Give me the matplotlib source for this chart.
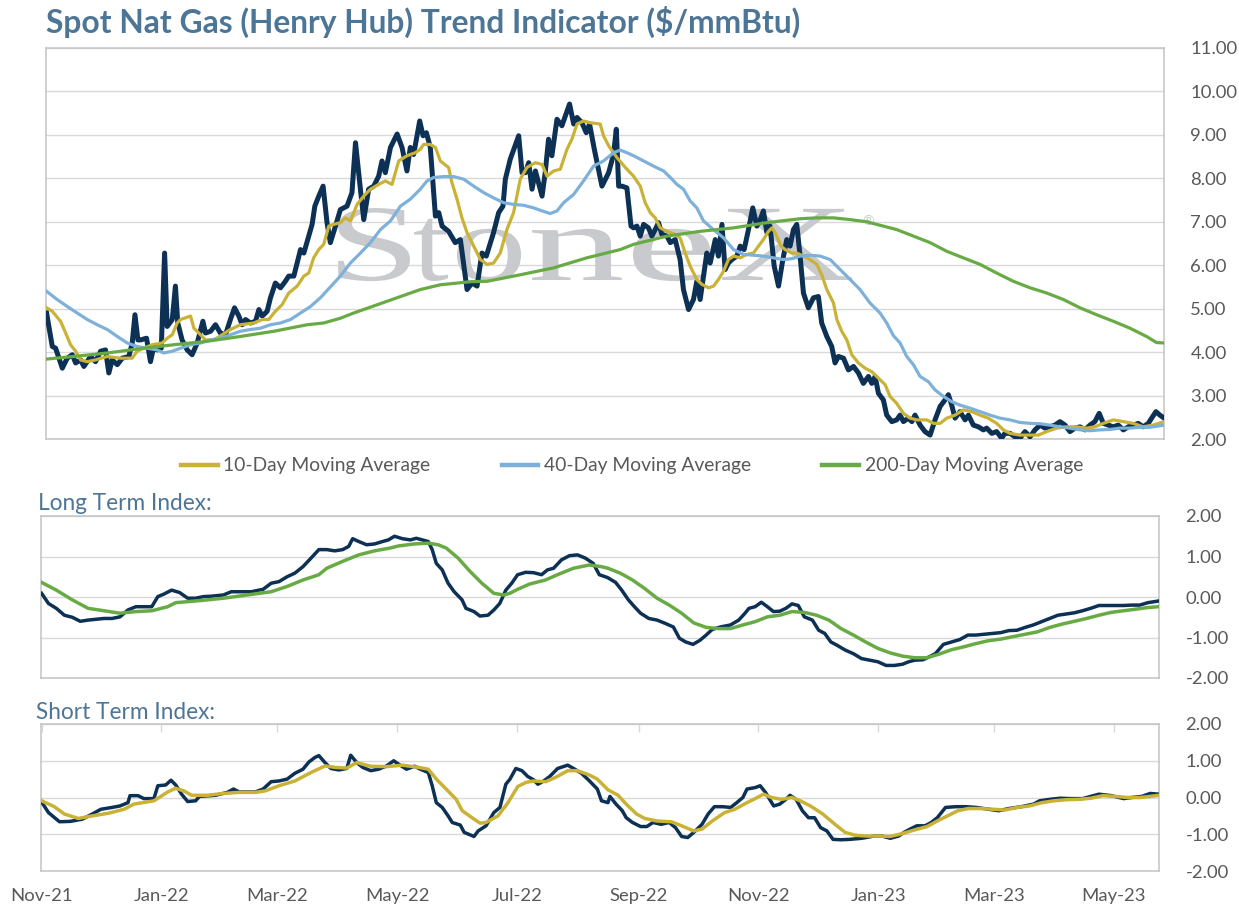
import numpy as np
import pandas as pd
import matplotlib
matplotlib.use("Agg")
import matplotlib.pyplot as plt
import matplotlib.dates as mdates
import matplotlib.ticker as mtick
from matplotlib.textpath import TextPath
from matplotlib.font_manager import FontProperties
from matplotlib.patches import PathPatch
from matplotlib.transforms import Affine2D

plt.rcParams["font.family"] = ["Lato", "DejaVu Sans"]
plt.rcParams["axes.unicode_minus"] = False

# ========= data: (days since START, value) =========
START = "2021-11-01"
X_END = 569

SPOT = [
    (0, 4.90), (2.9, 4.13), (4.6, 4.09), (8.0, 3.63), (10.5, 3.86), (13.1, 3.94), (14.8, 3.75),
    (17.3, 3.82), (19.0, 3.67), (22.4, 3.90), (24.9, 3.78), (27.5, 4.02), (30.0, 4.05), (31.7, 3.52),
    (33.4, 3.82), (36.0, 3.71), (38.5, 3.86), (41.9, 3.90), (43.6, 4.21), (45.0, 4.86), (46.5, 4.28),
    (47.8, 4.28), (50.9, 4.32), (52.9, 3.78), (54.6, 4.13), (56.3, 4.05), (58.4, 4.09), (60.1, 6.28),
    (61.4, 4.59), (64.0, 4.75), (65.6, 5.52), (66.8, 4.67), (69.0, 4.28), (71.6, 4.05), (74.1, 3.94),
    (76.7, 4.21), (79.6, 4.71), (80.9, 4.44), (83.5, 4.48), (86.0, 4.63), (88.5, 4.44), (91.1, 4.40),
    (93.6, 4.75), (95.7, 5.02), (97.9, 4.83), (99.6, 4.63), (101.3, 4.75), (103.8, 4.67), (106.4, 4.71),
    (108.1, 4.98), (109.8, 4.83), (112.3, 4.94), (114.0, 5.25), (116.5, 5.59), (119.1, 5.48), (121.6, 5.63),
    (123.3, 5.75), (125.9, 5.75), (127.6, 6.05), (129.3, 6.36), (131.0, 6.28), (133.5, 6.67), (135.2, 6.94),
    (136.6, 7.36), (138.6, 7.59), (140.8, 7.82), (142.8, 6.98), (144.5, 6.52), (147.1, 6.90), (149.6, 7.28),
    (153.0, 7.36), (155.5, 7.67), (157.3, 8.82), (159.8, 7.75), (161.5, 7.05), (164.0, 7.75), (166.6, 7.82),
    (169.1, 8.05), (170.8, 8.40), (172.5, 8.13), (175.1, 8.71), (178.5, 9.02), (181.0, 8.71), (183.5, 8.17),
    (185.2, 8.71), (186.9, 8.55), (188.6, 8.98), (190.0, 9.32), (191.7, 8.98), (193.4, 9.05), (195.4, 8.71),
    (198.0, 7.13), (199.7, 7.21), (201.4, 6.90), (204.7, 6.78), (208.1, 6.52), (210.7, 6.59), (214.1, 5.44),
    (216.6, 5.59), (219.2, 5.52), (221.7, 6.28), (223.9, 6.21), (226.0, 6.52), (227.6, 6.75), (230.2, 7.21),
    (232.4, 7.36), (233.6, 7.98), (236.1, 8.44), (240.4, 8.98), (242.1, 8.13), (243.8, 8.13), (245.5, 8.36),
    (247.2, 7.75), (248.9, 8.17), (252.3, 7.59), (253.9, 8.13), (255.6, 8.90), (257.3, 8.52), (259.9, 9.36),
    (262.4, 9.21), (266.3, 9.71), (268.4, 9.25), (270.1, 9.40), (272.6, 9.28), (274.8, 9.05), (276.5, 9.25),
    (278.9, 8.67), (282.8, 7.82), (286.2, 8.13), (288.7, 8.55), (290.1, 9.13), (291.3, 7.82), (293.0, 7.82),
    (295.5, 7.78), (297.6, 6.90), (298.9, 6.86), (300.6, 6.90), (302.3, 6.67), (304.0, 6.94), (306.5, 6.86),
    (308.2, 6.67), (309.9, 6.82), (311.6, 6.98), (313.3, 6.71), (315.9, 6.67), (317.6, 6.52), (320.1, 6.59),
    (322.6, 6.13), (324.3, 5.44), (326.9, 4.98), (329.4, 5.21), (331.1, 5.63), (332.8, 5.21), (334.5, 5.75),
    (336.2, 6.28), (337.9, 6.05), (340.5, 6.59), (342.1, 6.21), (343.9, 6.94), (345.5, 5.90), (347.2, 6.05),
    (349.0, 6.13), (351.5, 6.21), (353.2, 6.44), (355.2, 6.36), (357.4, 6.82), (359.6, 7.32), (361.7, 6.90),
    (363.4, 7.05), (365.0, 7.25), (366.8, 6.75), (368.4, 6.90), (370.5, 5.98), (372.7, 5.52), (374.9, 6.13),
    (376.9, 6.59), (378.6, 6.44), (380.3, 6.82), (382.0, 6.94), (383.7, 6.21), (385.4, 5.36), (387.9, 5.02),
    (390.5, 5.25), (393.0, 5.28), (394.7, 4.67), (397.3, 4.36), (399.8, 4.13), (401.5, 3.75), (403.2, 3.90),
    (405.8, 3.86), (408.3, 3.59), (410.9, 3.67), (413.4, 3.52), (415.9, 3.28), (418.5, 3.44), (420.2, 3.28),
    (421.9, 3.44), (423.6, 3.05), (426.1, 2.90), (427.8, 2.55), (430.4, 2.40), (432.9, 2.44), (434.6, 2.55),
    (436.3, 2.40), (438.8, 2.48), (440.6, 2.40), (442.2, 2.55), (444.8, 2.32), (447.3, 2.17), (449.9, 2.09),
    (452.4, 2.44), (455.0, 2.75), (457.5, 2.90), (459.2, 3.02), (460.9, 2.78), (462.6, 2.48), (465.1, 2.63),
    (467.7, 2.44), (469.4, 2.55), (471.9, 2.32), (474.5, 2.28), (477.0, 2.21), (478.7, 2.25), (481.3, 2.13),
    (483.8, 2.17), (486.3, 2.02), (488.0, 2.13), (490.6, 2.13), (493.1, 2.05), (495.7, 2.02), (498.2, 2.17),
    (500.8, 2.05), (503.3, 2.21), (505.9, 2.32), (508.4, 2.25), (510.9, 2.28), (513.5, 2.32), (516.0, 2.40),
    (518.6, 2.32), (521.1, 2.17), (523.7, 2.25), (526.2, 2.28), (528.8, 2.21), (531.3, 2.32), (533.8, 2.40),
    (536.0, 2.59), (538.1, 2.36), (540.6, 2.32), (543.2, 2.28), (545.7, 2.32), (548.3, 2.21), (550.8, 2.28),
    (553.3, 2.32), (555.9, 2.36), (558.4, 2.28), (561.0, 2.36), (562.7, 2.48), (564.9, 2.63), (566.9, 2.55),
    (569.1, 2.48),
]

MA10 = [
    (0, 5.02), (2.9, 4.94), (7.1, 4.71), (9.7, 4.44), (12.2, 4.17), (14.8, 4.02), (17.3, 3.82), (20.7, 3.78),
    (24.9, 3.82), (30.9, 3.90), (37.7, 3.86), (43.6, 3.86), (46.1, 4.02), (49.5, 4.09), (53.8, 4.17),
    (58.9, 4.21), (61.4, 4.32), (64.0, 4.40), (66.5, 4.67), (68.2, 4.75), (73.3, 4.83), (75.0, 4.55),
    (77.5, 4.44), (80.9, 4.28), (85.2, 4.28), (89.4, 4.40), (93.6, 4.52), (98.7, 4.63), (105.5, 4.67),
    (109.8, 4.75), (113.1, 4.75), (116.5, 4.94), (119.9, 5.09), (123.3, 5.36), (127.6, 5.52), (131.0, 5.75),
    (133.5, 5.82), (136.0, 6.17), (138.6, 6.36), (141.1, 6.48), (143.7, 6.90), (146.2, 6.94), (149.6, 6.98),
    (152.2, 7.09), (154.7, 7.02), (158.1, 7.40), (161.5, 7.59), (164.9, 7.75), (169.1, 7.86), (172.5, 7.94),
    (175.9, 7.86), (179.3, 8.40), (183.5, 8.52), (187.8, 8.59), (190.3, 8.67), (192.0, 8.78), (195.4, 8.78),
    (198.0, 8.71), (200.5, 8.40), (204.7, 8.25), (206.4, 7.90), (209.0, 7.52), (211.5, 7.09), (214.1, 6.75),
    (217.5, 6.44), (220.9, 6.13), (224.3, 6.02), (227.6, 6.05), (231.0, 6.28), (234.4, 6.82), (237.8, 7.21),
    (241.2, 7.98), (244.6, 8.25), (248.9, 8.36), (252.3, 8.32), (254.8, 8.05), (258.2, 8.17), (261.6, 8.21),
    (265.0, 8.67), (267.5, 8.90), (270.1, 9.25), (273.4, 9.32), (276.8, 9.28), (281.9, 9.25), (283.6, 8.98),
    (286.2, 8.75), (290.4, 8.48), (294.7, 8.25), (298.9, 8.05), (302.3, 7.82), (304.8, 7.44), (307.4, 7.21),
    (309.9, 7.09), (312.5, 6.86), (315.9, 6.78), (320.1, 6.71), (322.6, 6.63), (325.2, 6.28), (327.7, 5.98),
    (331.1, 5.67), (333.7, 5.56), (337.1, 5.48), (339.6, 5.52), (342.1, 5.67), (344.7, 5.86), (347.2, 6.13),
    (349.8, 6.21), (353.2, 6.17), (356.6, 6.25), (359.9, 6.28), (362.5, 6.44), (365.0, 6.59), (367.6, 6.78),
    (369.3, 6.86), (371.0, 6.75), (374.0, 6.44), (376.1, 6.36), (379.5, 6.28), (382.0, 6.28), (385.4, 6.21),
    (388.8, 6.13), (392.2, 6.02), (394.7, 5.78), (397.3, 5.44), (400.7, 5.13), (402.4, 4.75), (404.9, 4.48),
    (407.5, 4.28), (410.0, 3.94), (413.4, 3.75), (416.8, 3.63), (420.2, 3.55), (422.7, 3.44), (427.0, 3.25),
    (429.5, 2.98), (432.9, 2.82), (436.3, 2.59), (439.7, 2.48), (443.1, 2.44), (448.2, 2.44), (451.6, 2.36),
    (455.0, 2.36), (458.4, 2.48), (462.6, 2.55), (466.8, 2.67), (471.1, 2.63), (475.3, 2.55), (479.5, 2.48),
    (483.8, 2.36), (487.2, 2.21), (490.6, 2.13), (495.7, 2.09), (500.8, 2.09), (505.0, 2.09), (509.3, 2.17),
    (514.3, 2.25), (519.4, 2.28), (524.5, 2.28), (529.6, 2.25), (533.8, 2.28), (538.1, 2.36), (543.2, 2.44),
    (548.3, 2.40), (553.3, 2.36), (558.4, 2.28), (563.5, 2.32), (569.1, 2.40),
]

MA40 = [
    (0, 5.40), (5.4, 5.21), (10.5, 5.05), (15.6, 4.90), (20.7, 4.75), (25.8, 4.63), (30.9, 4.52), (36.0, 4.36),
    (41.1, 4.21), (46.1, 4.13), (51.2, 4.09), (56.3, 4.05), (59.7, 3.98), (64.0, 4.02), (68.2, 4.09),
    (73.3, 4.17), (78.4, 4.21), (83.5, 4.28), (88.5, 4.32), (93.6, 4.40), (98.7, 4.48), (103.8, 4.52),
    (108.9, 4.55), (114.0, 4.63), (119.1, 4.67), (124.2, 4.75), (129.3, 4.90), (134.4, 5.05), (139.4, 5.25),
    (144.5, 5.50), (149.6, 5.75), (154.7, 6.05), (159.8, 6.28), (164.9, 6.52), (170.0, 6.82), (175.1, 7.02),
    (180.2, 7.36), (185.2, 7.52), (190.3, 7.75), (193.7, 7.94), (197.1, 8.02), (202.2, 8.04), (207.3, 8.04),
    (212.4, 7.98), (217.5, 7.82), (222.6, 7.67), (227.6, 7.55), (232.7, 7.44), (237.8, 7.40), (242.9, 7.38),
    (248.0, 7.32), (252.3, 7.25), (256.5, 7.19), (259.9, 7.25), (263.3, 7.44), (268.4, 7.63), (273.4, 7.94),
    (278.5, 8.28), (283.6, 8.40), (288.7, 8.59), (292.1, 8.65), (295.5, 8.59), (298.9, 8.52), (304.0, 8.40),
    (309.1, 8.28), (314.2, 8.17), (317.6, 8.02), (321.0, 7.86), (324.3, 7.75), (327.7, 7.48), (331.1, 7.32),
    (334.5, 7.02), (339.6, 6.82), (344.7, 6.63), (349.8, 6.36), (354.9, 6.25), (359.9, 6.23), (365.0, 6.21),
    (370.1, 6.17), (375.2, 6.13), (379.5, 6.15), (383.7, 6.21), (388.8, 6.23), (393.9, 6.21), (399.0, 6.13),
    (404.1, 5.90), (409.2, 5.67), (414.2, 5.44), (419.3, 5.13), (424.4, 4.90), (427.8, 4.67), (431.2, 4.38),
    (434.6, 4.21), (438.0, 3.90), (441.4, 3.71), (444.8, 3.44), (449.0, 3.32), (452.4, 3.13), (456.7, 2.98),
    (460.9, 2.86), (465.1, 2.78), (470.2, 2.71), (475.3, 2.63), (480.4, 2.55), (485.5, 2.48), (490.6, 2.44),
    (495.7, 2.38), (500.8, 2.36), (505.9, 2.35), (510.9, 2.32), (516.0, 2.28), (521.1, 2.25), (526.2, 2.21),
    (531.3, 2.19), (536.4, 2.21), (541.5, 2.22), (546.6, 2.25), (551.7, 2.25), (556.7, 2.27), (561.8, 2.27),
    (569.1, 2.32),
]

MA200 = [
    (0, 3.84), (13.9, 3.90), (30.9, 3.98), (47.8, 4.08), (64.8, 4.17), (81.8, 4.25), (98.7, 4.36),
    (115.7, 4.48), (132.7, 4.63), (141.1, 4.67), (149.6, 4.78), (156.4, 4.90), (173.4, 5.17), (190.3, 5.44),
    (200.5, 5.55), (215.8, 5.62), (224.3, 5.63), (241.2, 5.78), (258.2, 5.94), (275.1, 6.17), (292.1, 6.36),
    (298.9, 6.48), (315.9, 6.67), (332.8, 6.78), (349.8, 6.86), (366.8, 6.98), (383.7, 7.07), (392.2, 7.09),
    (400.7, 7.09), (409.2, 7.05), (417.6, 7.00), (426.1, 6.90), (432.9, 6.82), (441.4, 6.67), (449.9, 6.52),
    (458.4, 6.32), (466.8, 6.17), (475.3, 6.02), (483.8, 5.82), (492.3, 5.63), (500.8, 5.48), (509.3, 5.36),
    (517.8, 5.21), (526.2, 5.02), (534.7, 4.86), (543.2, 4.71), (551.7, 4.55), (560.1, 4.36), (565.2, 4.22),
    (569.1, 4.21),
]

LT_SPOT = [
    (0, 0.09), (3.5, -0.16), (7.5, -0.28), (11.6, -0.45), (15.6, -0.50), (19.7, -0.60), (23.7, -0.57),
    (27.8, -0.55), (31.8, -0.53), (35.9, -0.53), (39.9, -0.49), (44.0, -0.32), (48.0, -0.24), (52.1, -0.24),
    (56.1, -0.24), (59.2, 0.01), (62.2, 0.07), (66.2, 0.17), (70.3, 0.11), (74.4, -0.03), (78.4, -0.03),
    (82.5, 0.01), (86.5, 0.02), (92.6, 0.05), (96.6, 0.13), (100.7, 0.13), (106.8, 0.13), (112.8, 0.19),
    (116.9, 0.34), (120.9, 0.38), (125.0, 0.50), (129.0, 0.59), (133.1, 0.75), (137.2, 0.96), (141.2, 1.17),
    (145.2, 1.17), (149.3, 1.14), (153.3, 1.17), (156.4, 1.25), (158.4, 1.44), (161.5, 1.37), (165.5, 1.29),
    (169.6, 1.31), (173.6, 1.37), (176.6, 1.41), (179.7, 1.50), (183.7, 1.44), (187.8, 1.41), (190.8, 1.45),
    (193.9, 1.41), (196.9, 1.37), (198.9, 1.17), (201.0, 0.83), (204.0, 0.67), (207.0, 0.34), (210.1, 0.13),
    (214.1, -0.07), (216.1, -0.28), (220.2, -0.36), (223.2, -0.47), (227.3, -0.45), (230.3, -0.32),
    (233.3, -0.16), (236.4, 0.17), (239.4, 0.34), (242.4, 0.55), (246.5, 0.61), (250.6, 0.60), (254.6, 0.55),
    (257.6, 0.67), (260.7, 0.71), (264.8, 0.92), (268.8, 1.02), (272.9, 1.04), (276.9, 0.96), (280.9, 0.83),
    (284.0, 0.55), (288.2, 0.48), (292.3, 0.36), (295.4, 0.17), (298.8, -0.07), (301.9, -0.24), (305.0, -0.40),
    (309.2, -0.53), (313.4, -0.57), (317.5, -0.65), (321.7, -0.74), (324.8, -1.02), (328.0, -1.11),
    (331.7, -1.17), (335.2, -1.07), (338.4, -0.94), (341.5, -0.80), (345.7, -0.74), (350.8, -0.69),
    (355.0, -0.57), (358.2, -0.40), (360.2, -0.28), (363.3, -0.24), (366.5, -0.13), (369.6, -0.24),
    (372.7, -0.36), (375.9, -0.35), (379.0, -0.28), (382.1, -0.17), (385.3, -0.21), (388.4, -0.49),
    (392.5, -0.57), (395.7, -0.82), (398.8, -0.90), (401.9, -1.11), (405.0, -1.19), (409.2, -1.31),
    (413.4, -1.40), (417.5, -1.52), (421.7, -1.56), (425.9, -1.60), (430.0, -1.69), (434.2, -1.69),
    (438.4, -1.66), (441.5, -1.60), (444.6, -1.56), (448.8, -1.55), (451.9, -1.48), (455.1, -1.40),
    (459.2, -1.17), (463.4, -1.11), (467.6, -1.05), (471.7, -0.94), (475.8, -0.94), (480.0, -0.92),
    (484.2, -0.90), (488.4, -0.88), (492.5, -0.83), (496.7, -0.82), (500.9, -0.75), (505.0, -0.69),
    (509.2, -0.61), (513.4, -0.53), (517.5, -0.45), (521.7, -0.42), (525.9, -0.39), (530.0, -0.34),
    (534.2, -0.28), (538.4, -0.21), (542.6, -0.21), (546.7, -0.21), (550.9, -0.21), (555.0, -0.20),
    (559.2, -0.20), (563.3, -0.14), (568.6, -0.10),
]

LT_MA = [
    (0, 0.36), (7.5, 0.17), (15.6, -0.07), (23.7, -0.28), (31.8, -0.34), (39.9, -0.40), (48.0, -0.36),
    (56.1, -0.34), (64.2, -0.24), (68.3, -0.14), (80.4, -0.09), (92.6, -0.03), (104.7, 0.05), (116.9, 0.13),
    (125.0, 0.26), (133.1, 0.42), (141.2, 0.55), (145.2, 0.71), (153.3, 0.88), (161.5, 1.04), (169.6, 1.14),
    (177.6, 1.21), (181.7, 1.26), (189.8, 1.31), (196.9, 1.33), (201.9, 1.29), (206.0, 1.21), (212.1, 0.96),
    (218.2, 0.63), (224.2, 0.34), (230.3, 0.09), (235.4, 0.05), (238.4, 0.09), (242.4, 0.19), (248.5, 0.32),
    (256.6, 0.42), (262.7, 0.55), (270.8, 0.71), (278.9, 0.79), (285.0, 0.75), (288.4, 0.71), (294.6, 0.59),
    (300.9, 0.42), (307.1, 0.21), (313.4, -0.03), (319.6, -0.20), (325.9, -0.40), (332.1, -0.64),
    (338.4, -0.75), (344.6, -0.78), (350.8, -0.78), (357.1, -0.69), (363.3, -0.61), (369.6, -0.49),
    (375.9, -0.45), (382.1, -0.36), (388.4, -0.38), (394.6, -0.45), (400.9, -0.57), (407.1, -0.78),
    (413.4, -0.94), (419.6, -1.11), (425.9, -1.27), (432.1, -1.38), (438.4, -1.46), (444.6, -1.50),
    (450.9, -1.50), (457.1, -1.41), (463.4, -1.30), (469.6, -1.23), (475.8, -1.15), (482.1, -1.08),
    (488.4, -1.04), (494.6, -0.98), (500.9, -0.92), (507.1, -0.86), (513.4, -0.75), (519.6, -0.67),
    (525.9, -0.60), (532.1, -0.53), (538.4, -0.45), (544.6, -0.38), (550.9, -0.34), (557.1, -0.30),
    (563.3, -0.26), (568.6, -0.24),
]

ST_SPOT = [
    (0, -0.12), (3.5, -0.41), (9.1, -0.66), (14.6, -0.65), (20.7, -0.59), (25.8, -0.45), (30.2, -0.32),
    (35.9, -0.27), (39.9, -0.23), (44.0, -0.14), (45.0, 0.05), (49.1, 0.05), (52.1, -0.03), (57.2, -0.03),
    (59.2, 0.32), (63.2, 0.34), (65.9, 0.47), (68.3, 0.34), (71.3, 0.09), (74.4, -0.11), (78.4, -0.09),
    (80.4, 0.03), (88.6, 0.06), (94.6, 0.14), (97.7, 0.23), (100.7, 0.15), (108.8, 0.15), (112.8, 0.23),
    (116.9, 0.43), (120.9, 0.45), (125.0, 0.50), (129.0, 0.66), (133.1, 0.77), (136.2, 0.97), (139.2, 1.09),
    (141.2, 1.14), (144.3, 0.95), (147.3, 0.79), (151.4, 0.75), (155.4, 0.79), (157.4, 1.15), (160.5, 0.95),
    (163.5, 0.82), (167.6, 0.73), (171.6, 0.77), (175.7, 0.86), (179.3, 1.00), (181.7, 0.91), (185.8, 0.77),
    (189.9, 0.85), (192.9, 0.77), (196.9, 0.68), (198.9, 0.32), (201.0, -0.14), (204.0, -0.27),
    (207.0, -0.50), (209.1, -0.68), (213.2, -0.75), (215.2, -0.95), (220.2, -1.06), (222.3, -0.91),
    (226.3, -0.77), (230.3, -0.41), (233.4, -0.27), (236.4, 0.36), (238.5, 0.50), (241.5, 0.79),
    (244.6, 0.73), (247.6, 0.57), (250.6, 0.48), (252.7, 0.36), (255.7, 0.45), (258.7, 0.57), (262.8, 0.79),
    (267.9, 0.88), (270.9, 0.79), (274.9, 0.66), (279.0, 0.45), (283.0, 0.23), (285.1, -0.09),
    (288.4, -0.14), (289.4, 0.03), (292.5, -0.18), (295.7, -0.36), (297.7, -0.55), (300.9, -0.68),
    (305.0, -0.79), (308.2, -0.79), (311.3, -0.68), (315.5, -0.73), (319.6, -0.68), (322.8, -0.82),
    (325.9, -1.06), (329.0, -1.09), (332.1, -0.95), (336.3, -0.73), (339.4, -0.45), (342.6, -0.25),
    (346.7, -0.25), (350.9, -0.27), (354.0, -0.14), (357.1, 0.00), (359.2, 0.23), (363.4, 0.27),
    (365.9, 0.32), (368.6, 0.14), (372.8, -0.23), (375.9, -0.18), (379.0, -0.05), (381.1, 0.06),
    (384.2, -0.05), (387.4, -0.36), (390.5, -0.55), (393.6, -0.55), (396.7, -0.82), (399.9, -0.91),
    (403.0, -1.14), (407.2, -1.15), (411.3, -1.14), (417.6, -1.11), (423.8, -1.05), (428.0, -1.05),
    (432.2, -1.11), (436.3, -1.05), (439.5, -0.94), (442.6, -0.85), (445.7, -0.77), (449.9, -0.77),
    (453.0, -0.68), (456.1, -0.55), (460.3, -0.27), (465.5, -0.25), (470.7, -0.25), (475.9, -0.27),
    (482.2, -0.32), (487.4, -0.36), (492.6, -0.30), (498.9, -0.25), (505.1, -0.18), (508.2, -0.09),
    (513.4, -0.05), (518.7, -0.02), (523.9, -0.03), (530.1, -0.03), (534.3, 0.03), (538.4, 0.09),
    (544.7, 0.05), (551.0, -0.03), (555.1, 0.00), (560.3, 0.03), (564.5, 0.11), (569.0, 0.09),
]

ST_MA = [
    (0, -0.09), (6.5, -0.25), (11.6, -0.45), (18.7, -0.57), (25.8, -0.50), (33.9, -0.43), (42.0, -0.32),
    (47.0, -0.18), (57.2, -0.09), (64.2, 0.15), (68.3, 0.25), (72.4, 0.18), (76.4, 0.06), (84.5, 0.06),
    (92.6, 0.11), (100.7, 0.14), (108.8, 0.14), (113.9, 0.18), (120.9, 0.32), (129.0, 0.45), (137.2, 0.68),
    (144.3, 0.86), (149.3, 0.82), (155.4, 0.80), (160.5, 0.95), (167.6, 0.85), (175.7, 0.84), (183.8, 0.88),
    (191.9, 0.82), (196.9, 0.77), (201.0, 0.50), (206.0, 0.23), (211.1, -0.05), (214.2, -0.36),
    (219.2, -0.55), (223.3, -0.70), (226.3, -0.68), (232.4, -0.50), (237.5, -0.14), (242.5, 0.30),
    (246.6, 0.41), (250.6, 0.45), (256.7, 0.43), (261.8, 0.55), (267.9, 0.73), (272.9, 0.73), (279.0, 0.61),
    (283.0, 0.50), (288.4, 0.21), (293.6, 0.06), (297.7, -0.18), (303.0, -0.45), (307.1, -0.57),
    (313.4, -0.64), (320.7, -0.66), (325.9, -0.77), (332.1, -0.91), (336.3, -0.86), (341.5, -0.64),
    (347.8, -0.41), (353.0, -0.32), (359.2, -0.14), (363.4, -0.03), (367.6, 0.09), (371.7, 0.00),
    (376.9, -0.05), (382.1, 0.00), (386.3, -0.09), (391.5, -0.23), (397.8, -0.45), (404.0, -0.73),
    (409.2, -0.95), (414.5, -1.03), (420.7, -1.05), (427.0, -1.05), (432.2, -1.06), (438.4, -0.98),
    (444.7, -0.88), (450.9, -0.79), (456.1, -0.64), (461.3, -0.50), (466.6, -0.36), (471.8, -0.30),
    (478.0, -0.30), (484.3, -0.32), (490.5, -0.34), (496.8, -0.27), (503.0, -0.23), (509.3, -0.14),
    (515.5, -0.09), (521.8, -0.06), (528.0, -0.05), (534.3, -0.02), (540.5, 0.05), (546.8, 0.03),
    (553.0, 0.00), (559.3, 0.00), (564.5, 0.03), (569.0, 0.06),
]

LEGEND_LABELS = ["10-Day Moving Average", "40-Day Moving Average", "200-Day Moving Average"]

# ========= style =========
NAVY = "#0c3155"
GOLD = "#c9b236"
LBLUE = "#7db1da"
GREEN = "#68ab45"
GRID = "#d9d9d9"
FRAME = "#c3c3c3"
TXT = "#595959"
HEAD = "#4d7596"
WMARK = "#c9cacd"
TICK_FS = 13.3

W, H = 1239, 910

# watermark letters: left/right edge in axes fraction, common baseline and cap height
WM_TEXT = "StoneX"
WM_BOXES = [(0.2612, 0.3256), (0.3292, 0.3596), (0.3676, 0.4249),
            (0.4347, 0.5150), (0.5250, 0.5940), (0.6047, 0.7210)]
WM_BASE, WM_CAP = 0.4066, 0.1841


def _xy(series):
    d, v = zip(*series)
    x = mdates.date2num(pd.Timestamp(START)) + np.asarray(d, dtype=float)
    return x, np.asarray(v)


def _box(l, t, r, b):
    return [l / W, 1 - b / H, (r - l) / W, (b - t) / H]


def _style(ax, ymin, ymax):
    x0 = mdates.date2num(pd.Timestamp(START))
    ax.set_xlim(x0 - 0.3, x0 + X_END)
    ax.set_ylim(ymin, ymax)
    ax.yaxis.tick_right()
    ax.yaxis.set_major_locator(mtick.MultipleLocator(1))
    ax.yaxis.set_major_formatter(mtick.FormatStrFormatter("%.2f"))
    ax.tick_params(axis="y", length=0, pad=19, labelsize=TICK_FS, labelcolor=TXT)
    ax.xaxis.set_major_locator(mdates.MonthLocator(bymonth=(1, 3, 5, 7, 9, 11)))
    ax.xaxis.set_major_formatter(mdates.DateFormatter("%b-%y"))
    ax.tick_params(axis="x", bottom=False, labelbottom=False)
    ax.grid(axis="y", color=GRID, lw=1.0)
    ax.set_axisbelow(True)
    for sp in ax.spines.values():
        sp.set_color(FRAME)
        sp.set_linewidth(1.1)


fig = plt.figure(figsize=(W / 100, H / 100), dpi=100)
fig.patch.set_facecolor("white")

ax_main = fig.add_axes(_box(46, 48, 1164, 439))
ax_lt = fig.add_axes(_box(41, 516, 1159, 678))
ax_st = fig.add_axes(_box(41, 724, 1159, 871))

_style(ax_main, 2, 11)
_style(ax_lt, -2, 2)
_style(ax_st, -2, 2)

# short-term panel carries the dates, small ticks hang from the top edge
ax_st.tick_params(axis="x", top=True, bottom=False, direction="in", length=6, width=1,
                  color=GRID, labelbottom=True, labelsize=TICK_FS, labelcolor=TXT, pad=12)

# ========= watermark =========
fp = FontProperties(family="Liberation Serif")
cap_units = TextPath((0, 0), "S", size=100, prop=fp).get_extents().y1
for ch, (bx0, bx1) in zip(WM_TEXT, WM_BOXES):
    tp = TextPath((0, 0), ch, size=100, prop=fp)
    e = tp.get_extents()
    tr = (Affine2D().translate(-e.x0, 0)
          .scale((bx1 - bx0) / e.width, WM_CAP / cap_units)
          .translate(bx0, WM_BASE))
    ax_main.add_patch(PathPatch(tp, transform=tr + ax_main.transAxes, facecolor=WMARK,
                                edgecolor="none", zorder=1.5))
ax_main.text(0.735, 0.558, "\u00ae", transform=ax_main.transAxes, fontsize=10,
             color=WMARK, ha="center", va="center", zorder=1.5)

# ========= main panel =========
ax_main.plot(*_xy(SPOT), color=NAVY, lw=3.6, zorder=3, solid_joinstyle="round")
l10, = ax_main.plot(*_xy(MA10), color=GOLD, lw=2.3, zorder=4)
l40, = ax_main.plot(*_xy(MA40), color=LBLUE, lw=2.3, zorder=5)
l200, = ax_main.plot(*_xy(MA200), color=GREEN, lw=2.3, zorder=6)

leg = fig.legend([l10, l40, l200], LEGEND_LABELS, loc="center",
                 bbox_to_anchor=(632 / W, 1 - 466 / H), ncol=3, frameon=False,
                 fontsize=13.85, handlelength=1.9, handletextpad=0.3, columnspacing=3.7)
for t in leg.get_texts():
    t.set_color(TXT)
for h in leg.legend_handles:
    h.set_linewidth(3.2)

# ========= index panels =========
ax_lt.plot(*_xy(LT_SPOT), color=NAVY, lw=2.5, zorder=3)
ax_lt.plot(*_xy(LT_MA), color=GREEN, lw=2.5, zorder=4)

ax_st.plot(*_xy(ST_SPOT), color=NAVY, lw=2.5, zorder=3)
ax_st.plot(*_xy(ST_MA), color=GOLD, lw=2.5, zorder=4)

# ========= texts =========
fig.text(46 / W, 1 - 33 / H, "Spot Nat Gas (Henry Hub) Trend Indicator (\\$/mmBtu)",
         fontsize=22.9, fontweight="bold", color=HEAD, ha="left", va="baseline")
fig.text(38 / W, 1 - 510 / H, "Long Term Index:", fontsize=16.3, color=HEAD,
         ha="left", va="baseline")
fig.text(36 / W, 1 - 719 / H, "Short Term Index:", fontsize=16.3, color=HEAD,
         ha="left", va="baseline")

fig.savefig("out.png", dpi=100, facecolor="white")
plt.close(fig)
